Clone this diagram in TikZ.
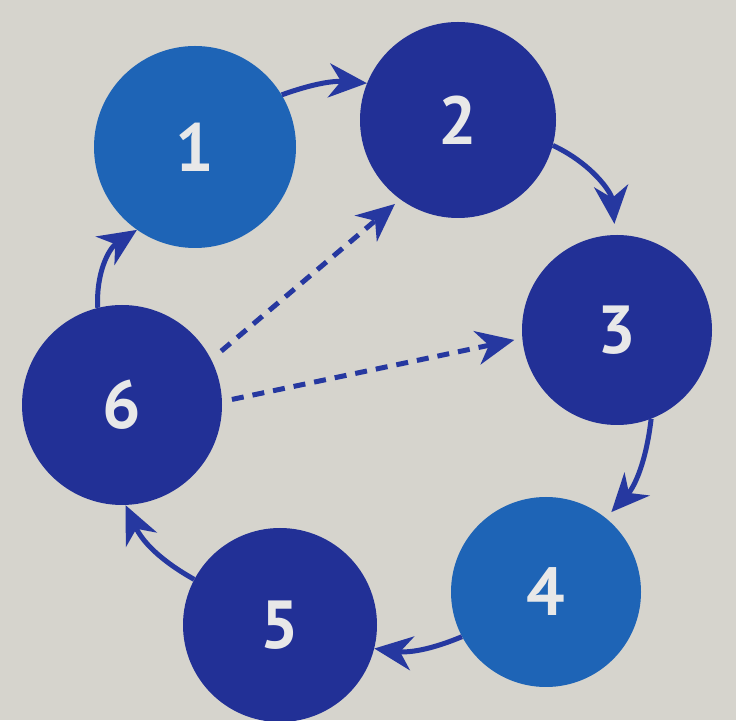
\documentclass[tikz,border=0pt]{standalone}
\usepackage{fontspec}
\setmainfont{PT Sans}
\usetikzlibrary{arrows.meta}
\definecolor{bgc}{RGB}{214,212,205}
\definecolor{lightb}{RGB}{30,100,182}
\definecolor{darkb}{RGB}{34,48,150}
\definecolor{arrc}{RGB}{38,56,160}
\definecolor{numc}{RGB}{232,232,232}
\tikzset{
  disc/.style={circle, inner sep=0pt, text=numc, font=\bfseries\fontsize{68}{68}\selectfont},
  arr/.style={draw=arrc, line width=5pt, -{Stealth[length=38pt,width=34pt,inset=12pt]}},
  darr/.style={arr, dash pattern=on 12pt off 9pt}
}
\begin{document}
\begin{tikzpicture}[x=1pt,y=1pt]
\fill[bgc] (0,0) rectangle (736,720);
\useasboundingbox (0,0) rectangle (736,720);
\node[disc, fill=lightb, minimum size=202pt] (c1) at (195,573) {1};
\node[disc, fill=darkb, minimum size=196pt] (c2) at (458,600) {2};
\node[disc, fill=darkb, minimum size=190pt] (c3) at (617,390) {3};
\node[disc, fill=lightb, minimum size=190pt] (c4) at (546,128) {4};
\node[disc, fill=darkb, minimum size=194pt] (c5) at (280,95) {5};
\node[disc, fill=darkb, minimum size=200pt] (c6) at (122,315) {6};
\draw[arr] (c1.31) to[bend left=12] (c2.158);
\draw[arr, shorten >=11pt] (c2.-15) to[bend left=30] (c3.91);
\draw[arr, shorten >=8pt] (c3.-69) to[bend left=18] (c4.51);
\draw[arr] (c4.208) to[bend left=15] (c5.-14);
\draw[arr] (c5.152) to[bend left=18] (c6.-88);
\draw[arr] (c6.104) to[bend left=30] (c1.235);
\draw[darr, shorten <=13pt, shorten >=7pt] (c6.27.5) -- (c2.234);
\draw[darr, shorten <=10pt, shorten >=8pt] (c6.2.6) -- (c3.185.6);
\end{tikzpicture}
\end{document}
